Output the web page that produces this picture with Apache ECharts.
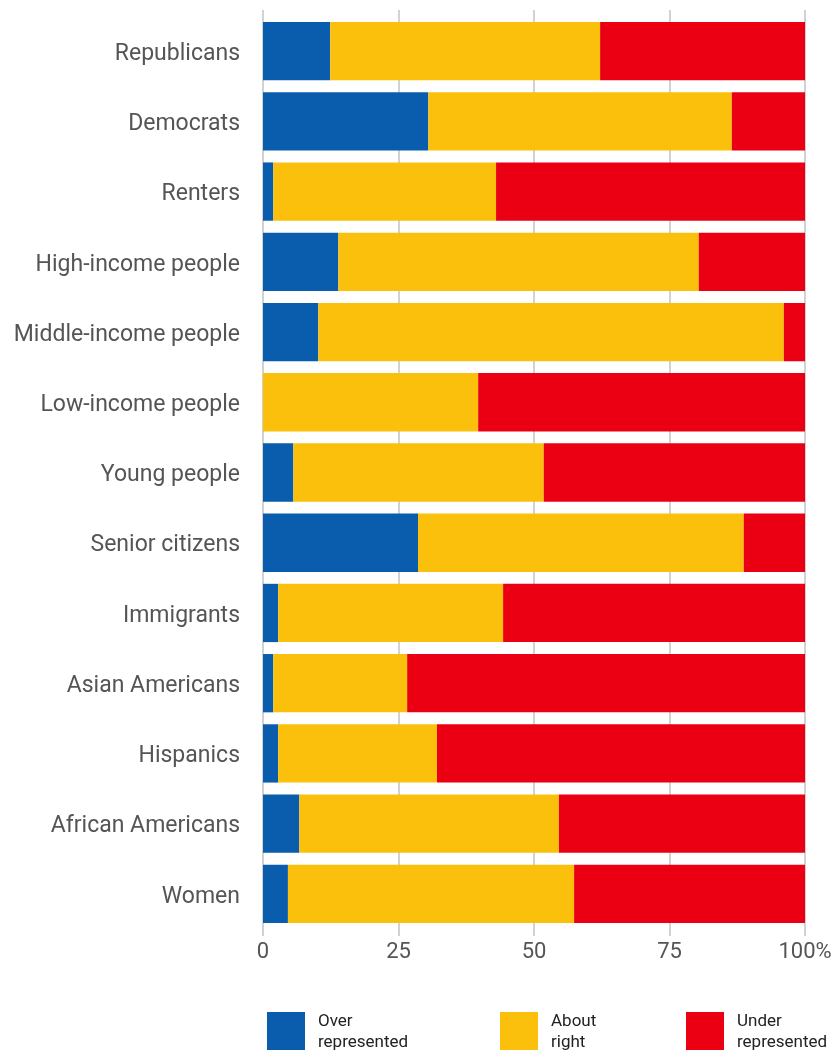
<!DOCTYPE html>
<html>
<head>
<meta charset="utf-8">
<script src="https://cdn.jsdelivr.net/npm/echarts@6/dist/echarts.min.js"></script>
<style>
html,body{margin:0;padding:0;background:#fff;}
#chart{width:840px;height:1050px;}
</style>
</head>
<body>
<div id="chart"></div>
<script>
const categories = ["Republicans","Democrats","Renters","High-income people","Middle-income people","Low-income people","Young people","Senior citizens","Immigrants","Asian Americans","Hispanics","African Americans","Women"];
const overRepresented = [12.4,30.5,1.9,13.9,10.2,0,5.6,28.6,2.8,1.9,2.8,6.7,4.6];
const aboutRight = [49.8,56.0,41.1,66.5,85.9,39.7,46.2,60.1,41.5,24.7,29.3,47.9,52.8];
const underRepresented = [37.8,13.5,57.0,19.6,3.9,60.3,48.2,11.3,55.7,73.4,67.9,45.4,42.6];
const xTicks = [0,25,50,75,100];
const seriesNames = ["Over\nrepresented","About\nright","Under\nrepresented"];
const colors = ["#0a5cad","#fbc00b","#eb0013"];

const chart = echarts.init(document.getElementById('chart'));
const gridColor = '#d2d2d2';
function mk(name, data, color){
  return {name:name,type:'bar',stack:'total',data:data,barCategoryGap:'17%',
    itemStyle:{color:color},emphasis:{disabled:true},silent:true};
}
// legend drawn as graphic items (layout positions only)
const legendX = [267,500,686];
const legendGraphics = [];
seriesNames.forEach(function(n,i){
  legendGraphics.push({type:'rect',left:legendX[i],top:1012,shape:{width:38,height:38},style:{fill:colors[i]}});
  legendGraphics.push({type:'text',left:legendX[i]+51,top:1011,
    style:{text:n,fontFamily:'Roboto',fontSize:17,lineHeight:21,fill:'#222'}});
});
chart.setOption({
  animation:false,
  color:colors,
  grid:{left:263,right:35,top:16,bottom:121,containLabel:false},
  graphic:legendGraphics,
  xAxis:[{
    type:'value',min:0,max:100,interval:25,position:'bottom',
    axisLine:{show:false},
    axisTick:{show:true,length:7,lineStyle:{color:gridColor,width:2}},
    splitLine:{show:true,lineStyle:{color:gridColor,width:2}},
    axisLabel:{fontFamily:'Roboto',fontSize:22,color:'#555',margin:12,
      formatter:function(v){return xTicks.indexOf(v)>=0 ? (v===100?'100%':String(v)) : '';}}
  },{
    type:'value',min:0,max:100,interval:25,position:'top',
    axisLine:{show:false},
    axisTick:{show:true,length:6,lineStyle:{color:gridColor,width:2}},
    splitLine:{show:false},
    axisLabel:{show:false}
  }],
  yAxis:{
    type:'category',data:categories,inverse:true,
    axisLine:{show:false},axisTick:{show:false},
    axisLabel:{fontFamily:'Roboto',fontSize:23,color:'#555',margin:23,
      verticalAlign:'top',lineHeight:24,padding:[-9,0,0,0]}
  },
  series:[
    mk(seriesNames[0],overRepresented,colors[0]),
    mk(seriesNames[1],aboutRight,colors[1]),
    mk(seriesNames[2],underRepresented,colors[2])
  ]
});
</script>
</body>
</html>
